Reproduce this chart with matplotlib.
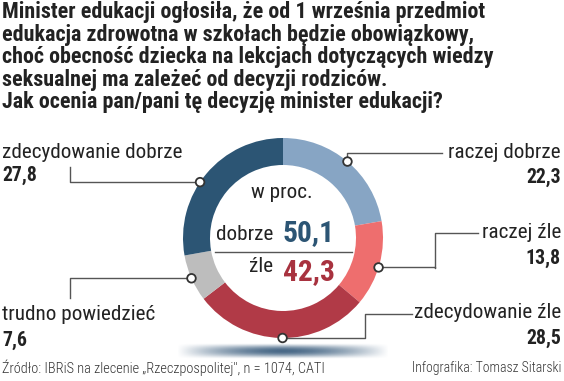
import numpy as np
import matplotlib.pyplot as plt
from matplotlib.patches import Circle
from matplotlib import font_manager as fm

W, H = 564, 381

# data
labels = ["raczej dobrze", "raczej źle", "zdecydowanie źle", "trudno powiedzieć", "zdecydowanie dobrze"]
values = [22.3, 13.8, 28.5, 7.6, 27.8]
value_text = ["22,3", "13,8", "28,5", "7,6", "27,8"]
colors = ["#87a5c4", "#ee6e6e", "#b13a47", "#bdbdbd", "#2c5574"]
good_total = "50,1"
bad_total = "42,3"

title = ("Minister edukacji ogłosiła, że od 1 września przedmiot\n"
         "edukacja zdrowotna w szkołach będzie obowiązkowy,\n"
         "choć obecność dziecka na lekcjach dotyczących wiedzy\n"
         "seksualnej ma zależeć od decyzji rodziców.\n"
         "Jak ocenia pan/pani tę decyzję minister edukacji?")
source = "Źródło: IBRiS na zlecenie „Rzeczpospolitej\", n = 1074, CATI"
author = "Infografika: Tomasz Sitarski"


# look for a condensed face, fall back to Roboto
def find_face(kind):
    prefs = ["RobotoCondensed", "Roboto-Condensed", "LiberationSansNarrow", "OpenSans_Condensed",
             "OpenSans-Condensed", "NotoSans-Condensed", "DejaVuSansCondensed"]
    files = [f.fname for f in fm.fontManager.ttflist]
    for p in prefs:
        for fn in files:
            base = fn.split('/')[-1].lower()
            stem = base.split('.')[0]
            if p.lower() not in base.replace(' ', ''):
                continue
            if 'italic' in base or 'oblique' in base:
                continue
            if kind == 'bold' and stem.endswith('bold') and 'semi' not in stem and 'extra' not in stem:
                return fm.FontProperties(fname=fn)
            if kind == 'regular' and (stem.endswith('regular') or stem.endswith('condensed') or stem.endswith('narrow')):
                return fm.FontProperties(fname=fn)
            if kind == 'light' and stem.endswith('light') and 'extra' not in stem:
                return fm.FontProperties(fname=fn)
    if kind == 'light':
        return find_face('regular')
    return fm.FontProperties(family=['Roboto', 'DejaVu Sans'], weight='bold' if kind == 'bold' else 'normal')


fp_bold = find_face('bold')
fp_reg = find_face('regular')
fp_light = find_face('light')

fig = plt.figure(figsize=(W / 100, H / 100), dpi=100)
ax = fig.add_axes([0, 0, 1, 1])
renderer = fig.canvas.get_renderer()


def Y(y):
    return H - y


def fit(t, width):
    w = t.get_window_extent(renderer).width
    t.set_fontsize(t.get_fontsize() * width / w)
    return t


def txt(x, y, s, fp, size, width=None, **kw):
    t = ax.text(x, Y(y), s, fontproperties=fp.copy(), **kw)
    t.set_fontsize(size)
    if width:
        fit(t, width)
    return t


cx, cy, R = 283, Y(238), 100

# shadow under the ring
gx = np.linspace(-1, 1, 300)
gy = np.linspace(-1, 1, 40)
XX, YY = np.meshgrid(gx, gy)
alpha = np.clip(1 - np.abs(XX) ** 1.6, 0, 1) * np.clip(1 - YY ** 2, 0, 1) ** 1.5
img = np.zeros((40, 300, 4))
img[..., 0] = 0x3e / 255
img[..., 1] = 0x60 / 255
img[..., 2] = 0x80 / 255
img[..., 3] = alpha * 0.95
ax.imshow(img, extent=(cx - 106, cx + 106, Y(359), Y(343)), zorder=0, aspect='auto')

wedges, _ = ax.pie(values, colors=colors, startangle=90, counterclock=False,
                   radius=R, center=(cx, cy), wedgeprops=dict(width=27, linewidth=0))
ax.set_xlim(0, W)
ax.set_ylim(0, H)
ax.set_aspect('auto')
ax.axis('off')

# markers at outer edge, near the middle of each slice
marker_shift = [0, -2, 1, 0, 6]
mid_angles = [(w.theta1 + w.theta2) / 2 + s for w, s in zip(wedges, marker_shift)]
marker_pts = [(cx + R * np.cos(np.radians(a)), cy + R * np.sin(np.radians(a))) for a in mid_angles]

# leader lines
line_col = "#555555"
paths = [
    [(348, 153), (442, 153)],
    [(435, 268), (435, 233), (478, 233)],
    [(365, 338), (365, 314), (412, 314)],
    [(70, 298)],
    [(70, 167)],
]
for (mx, my), p in zip(marker_pts, paths):
    pts = [(mx, my)]
    first = p[0]
    if abs(first[0] - mx) < 6:
        pts.append((mx, Y(first[1])))
    else:
        pts.append((first[0], my))
    pts += [(q[0], Y(q[1])) for q in p]
    ax.plot([q[0] for q in pts], [q[1] for q in pts], color=line_col, lw=1, zorder=3)
    ax.add_patch(Circle((mx, my), 4.3, facecolor='white', edgecolor='#333333', lw=1.3, zorder=4))

# labels
lab_pos = [
    (561, 152, 177, 'right'),
    (561, 233, 258, 'right'),
    (561, 313, 338, 'right'),
    (2, 315, 340, 'left'),
    (2, 152, 175, 'left'),
]
ref = txt(2, 152, labels[4], fp_reg, 13, width=180, ha='left', va='center', color='#222222')
lab_size = ref.get_fontsize()
ref.remove()
vref = txt(2, 175, "27,8", fp_bold, 14, width=35, ha='left', va='center', color='#222222')
val_size = vref.get_fontsize()
vref.remove()
for lab, vt, (x, y1, y2, ha) in zip(labels, value_text, lab_pos):
    txt(x, y1, lab, fp_reg, lab_size, ha=ha, va='center', color='#222222')
    txt(x, y2, vt, fp_bold, val_size, ha=ha, va='center', color='#222222')

# centre
txt(282, 192, "w proc.", fp_reg, lab_size, ha='center', va='center', color='#222222')
txt(273, 234, "dobrze", fp_reg, lab_size, ha='right', va='center', color='#222222')
big = txt(283, 233, good_total, fp_bold, 20, width=52, ha='left', va='center', color='#2c5574')
ax.plot([215, 352], [Y(252), Y(252)], color='#555555', lw=1)
txt(273, 267, "źle", fp_reg, lab_size, ha='right', va='center', color='#222222')
txt(283, 272, bad_total, fp_bold, big.get_fontsize(), ha='left', va='center', color='#a8323f')

# title & footer
tt = txt(2, 1, title, fp_bold, 14, width=490, ha='left', va='top', color='#222222', linespacing=1.0)
h = tt.get_window_extent(renderer).height
tt.set_linespacing(1.0 * 114 / h)
txt(2, 368, source, fp_light, 9.5, width=326, ha='left', va='center', color='#333333')
txt(561, 368, author, fp_light, 9.5, width=150, ha='right', va='center', color='#333333')

fig.savefig("out.png", dpi=100, facecolor='white')
